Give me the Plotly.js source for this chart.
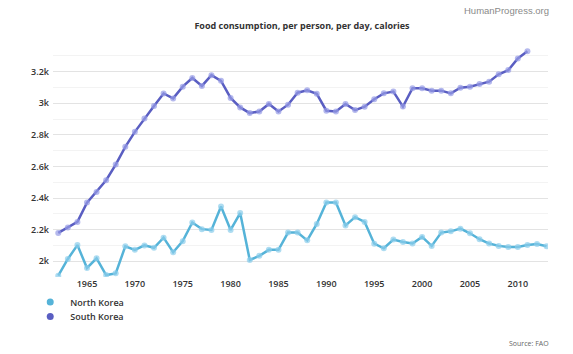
<!DOCTYPE html>
<html><head><meta charset="utf-8">
<script src="https://cdn.plot.ly/plotly-3.0.1.min.js"></script>
<style>html,body{margin:0;padding:0;background:#fff}#chart{width:573px;height:354px}</style>
</head><body><div id="chart"></div>
<script>
const nkYears = [1962,1963,1964,1965,1966,1967,1968,1969,1970,1971,1972,1973,1974,1975,1976,1977,1978,1979,1980,1981,1982,1983,1984,1985,1986,1987,1988,1989,1990,1991,1992,1993,1994,1995,1996,1997,1998,1999,2000,2001,2002,2003,2004,2005,2006,2007,2008,2009,2010,2011,2012,2013];
const northKorea = [1908,2014,2102,1957,2018,1912,1923,2094,2072,2100,2085,2149,2057,2127,2245,2203,2198,2346,2198,2305,2008,2034,2072,2072,2181,2181,2132,2236,2372,2372,2226,2279,2249,2111,2082,2137,2122,2112,2154,2097,2181,2189,2206,2177,2139,2112,2097,2090,2090,2103,2109,2095];
const skYears = [1962,1963,1964,1965,1966,1967,1968,1969,1970,1971,1972,1973,1974,1975,1976,1977,1978,1979,1980,1981,1982,1983,1984,1985,1986,1987,1988,1989,1990,1991,1992,1993,1994,1995,1996,1997,1998,1999,2000,2001,2002,2003,2004,2005,2006,2007,2008,2009,2010,2011];
const southKorea = [2179,2213,2249,2371,2439,2513,2612,2724,2819,2904,2982,3062,3031,3105,3160,3110,3178,3142,3034,2974,2938,2948,2996,2948,2991,3067,3082,3060,2953,2948,2996,2957,2978,3026,3063,3074,2979,3095,3095,3080,3080,3063,3099,3105,3122,3137,3183,3210,3284,3330];
const yTickVals = [2000,2200,2400,2600,2800,3000,3200];
const yTickText = ['2k','2.2k','2.4k','2.6k','2.8k','3k','3.2k'];
const xTickVals = [1965,1970,1975,1980,1985,1990,1995,2000,2005,2010];

const nkColor = '#55b3d8', skColor = '#5a5ec2';
const traces = [
  {x: nkYears, y: northKorea, name: 'North Korea', type: 'scatter', mode: 'lines+markers', showlegend: false,
   line: {color: nkColor, width: 2.5}, marker: {size: 6, color: 'rgba(140,205,235,0.7)', line: {width: 0}}},
  {x: skYears, y: southKorea, name: 'South Korea', type: 'scatter', mode: 'lines+markers', showlegend: false,
   line: {color: skColor, width: 2.5}, marker: {size: 6, color: 'rgba(150,155,230,0.7)', line: {width: 0}}},
  {x: [null], y: [null], name: 'North Korea', type: 'scatter', mode: 'markers', legend: 'legend',
   marker: {size: 7, color: nkColor}},
  {x: [null], y: [null], name: 'South Korea', type: 'scatter', mode: 'markers', legend: 'legend2',
   marker: {size: 7, color: skColor}}
];
const tf = {family: '"Open Sans", sans-serif', size: 9, color: '#333', weight: 600};
const legX = -0.046;
const layout = {
  width: 573, height: 354,
  margin: {l: 53, r: 25, t: 48, b: 77},
  paper_bgcolor: '#fff', plot_bgcolor: '#fff',
  title: {text: 'Food consumption, per person, per day, calories', x: 302/573, xanchor: 'center', y: 1 - 25.5/354, yanchor: 'middle',
          font: {family: '"Open Sans", sans-serif', size: 9, color: '#333', weight: 700}},
  xaxis: {range: [1961.45, 2013.15], tickvals: xTickVals, showgrid: false, zeroline: false, showline: false,
          ticks: '', tickfont: tf, fixedrange: true},
  yaxis: {range: [1900, 3350], tickvals: yTickVals, ticktext: yTickText, showgrid: true, gridcolor: '#e3e3e3', gridwidth: 1,
          zeroline: false, showline: false, ticks: '', tickfont: tf, ticklabelstandoff: 3,
          minor: {dtick: 100, tick0: 1900, showgrid: true, gridcolor: '#f3f3f3', gridwidth: 1}},
  showlegend: true,
  legend: {x: legX, xref: 'paper', xanchor: 'left', y: 1 - 302/354, yref: 'container', yanchor: 'middle',
           font: tf, bgcolor: 'rgba(0,0,0,0)'},
  legend2: {x: legX, xref: 'paper', xanchor: 'left', y: 1 - 316.6/354, yref: 'container', yanchor: 'middle',
           font: tf, bgcolor: 'rgba(0,0,0,0)'},
  annotations: [
    {text: 'HumanProgress.org', xref: 'paper', yref: 'paper', x: (551 - 53) / 495, xanchor: 'right',
     y: (277 - 10) / 229, yanchor: 'middle', showarrow: false,
     font: {family: '"Liberation Sans", Arial, sans-serif', size: 9.5, color: '#8a8a8a'}},
    {text: 'Source: FAO', xref: 'paper', yref: 'paper', x: (551 - 53) / 495, xanchor: 'right',
     y: (277 - 343) / 229, yanchor: 'middle', showarrow: false,
     font: {family: '"Open Sans", sans-serif', size: 7, color: '#666'}}
  ]
};
Plotly.newPlot('chart', traces, layout, {displayModeBar: false, staticPlot: true});
</script></body></html>
